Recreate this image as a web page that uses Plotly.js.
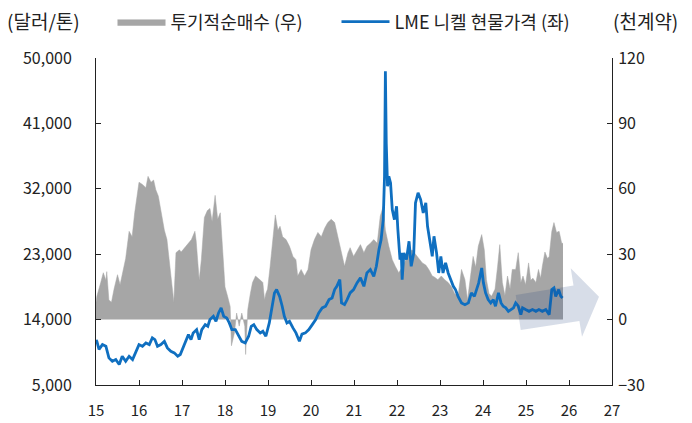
<!DOCTYPE html>
<html>
<head>
<meta charset="utf-8">
<script src="https://cdn.plot.ly/plotly-3.0.1.min.js"></script>
<style>
html,body{margin:0;padding:0;background:#fff;}
#chart{width:692px;height:423px;}
</style>
</head>
<body>
<div id="chart"></div>
<script>
// 투기적순매수 (천계약, 우축)
const specYears = [15.00,15.02,15.11,15.17,15.23,15.25,15.30,15.36,15.42,15.50,15.56,15.64,15.69,15.77,15.84,15.90,15.96,16.00,16.08,16.16,16.21,16.28,16.34,16.39,16.45,16.51,16.59,16.65,16.70,16.75,16.81,16.86,16.94,16.98,17.07,17.15,17.22,17.30,17.33,17.40,17.45,17.52,17.59,17.65,17.70,17.77,17.83,17.89,17.94,18.00,18.06,18.12,18.15,18.22,18.27,18.33,18.39,18.46,18.48,18.53,18.59,18.64,18.71,18.78,18.85,18.88,18.92,18.95,18.99,19.05,19.11,19.17,19.23,19.28,19.34,19.42,19.50,19.58,19.65,19.69,19.77,19.85,19.93,20.00,20.08,20.16,20.24,20.32,20.39,20.47,20.55,20.63,20.70,20.78,20.86,20.91,20.99,21.07,21.15,21.23,21.30,21.38,21.46,21.54,21.61,21.68,21.73,21.81,21.89,21.96,22.04,22.12,22.20,22.28,22.35,22.43,22.51,22.59,22.67,22.74,22.82,22.87,22.95,23.03,23.11,23.19,23.27,23.34,23.42,23.50,23.58,23.64,23.72,23.77,23.83,23.89,23.97,24.03,24.08,24.14,24.20,24.28,24.34,24.39,24.45,24.51,24.57,24.63,24.68,24.76,24.82,24.88,24.93,24.99,25.06,25.11,25.16,25.23,25.29,25.34,25.38,25.44,25.50,25.54,25.60,25.65,25.71,25.77,25.83,25.86];
const specNet = [8,10.7,17,21.5,18,22,9,8,14,20.6,16,23,28,40.5,38,49,58,63,62,60.5,65.7,63,64,59.6,56.6,50,41,36.7,27.5,21.5,8,30.7,32,31,33,35,36.7,40.5,36,18,27.5,46.8,50,51,45,57,46,49,32,15,10.7,6,-12,-6,3,-3,3,-3,-16,4.6,12,17,20,19,17.6,17,9,12,14,24.5,38,48,41,42.8,38,36.7,33.6,29,27.5,20,23,20,23,32,36.7,40,38,42,44.5,46,44.5,38,32,24.5,30.7,33,29,32,34.4,30.7,33.6,35,36.7,35,47.4,52,41,33.6,27.5,24.5,21.5,24,27.5,30.7,32,30,27.5,26,25,23,20,19.5,18.3,20,18.3,17,15,12,10.7,23,18.3,9,21.5,29,24,33.6,39,32,18.3,12,10.7,14,24.5,34.4,17,11,20,14,23,23,30.7,17,20,16,26,18,19,17,23,19,24.5,31,28,29,40.5,44.5,40,40.5,35,35];

// LME 니켈 현물가격 (달러/톤, 좌축)
const priceYears = [15.00,15.02,15.07,15.15,15.23,15.30,15.38,15.46,15.54,15.61,15.69,15.77,15.85,15.93,16.00,16.08,16.16,16.24,16.31,16.37,16.43,16.51,16.59,16.66,16.74,16.82,16.90,16.96,16.99,17.07,17.15,17.21,17.26,17.34,17.40,17.46,17.54,17.60,17.65,17.73,17.79,17.85,17.91,17.97,18.04,18.10,18.16,18.24,18.32,18.39,18.47,18.55,18.61,18.67,18.74,18.82,18.88,18.95,19.03,19.09,19.15,19.20,19.27,19.33,19.38,19.44,19.50,19.58,19.65,19.73,19.79,19.87,19.95,20.03,20.11,20.18,20.26,20.34,20.42,20.49,20.55,20.60,20.67,20.71,20.78,20.84,20.91,20.99,21.07,21.15,21.23,21.30,21.38,21.46,21.52,21.58,21.63,21.68,21.71,21.73,21.75,21.78,21.81,21.85,21.89,21.94,21.99,22.02,22.07,22.10,22.12,22.16,22.22,22.28,22.33,22.39,22.43,22.49,22.55,22.61,22.67,22.71,22.77,22.82,22.86,22.92,22.97,23.02,23.07,23.13,23.19,23.25,23.31,23.36,23.42,23.50,23.58,23.66,23.73,23.80,23.85,23.90,23.97,24.01,24.06,24.12,24.18,24.24,24.29,24.36,24.42,24.47,24.53,24.59,24.65,24.71,24.76,24.82,24.88,24.92,24.99,25.07,25.15,25.23,25.30,25.38,25.46,25.54,25.60,25.65,25.69,25.76,25.81,25.85];
const nickelPrice = [11200,11000,9900,10560,10330,8730,8260,8500,7810,8950,8260,8950,8500,9640,10560,10330,10790,10560,11480,11250,10330,10560,11010,10100,9640,9420,8950,9200,9640,10790,11940,11250,12170,12620,11250,12620,13310,13080,14000,14460,13770,14920,15610,14460,14230,13540,12620,12620,11710,11010,10790,11710,13080,13310,12620,12170,12400,11710,13540,15380,17670,18130,17200,15840,14460,13540,13770,12860,12170,11010,12000,12170,12620,13310,14000,14920,15610,15840,16750,16980,18130,18580,19500,16300,16060,16750,17670,18130,19050,19740,18580,20420,20880,19960,21340,23630,25000,27760,33720,48170,38310,32340,33720,32800,29140,27760,29600,26400,22260,23180,19500,23180,22260,24780,21340,23180,30060,31440,30520,28680,30060,26840,24550,22710,25460,23180,20420,22710,20420,21800,20420,19500,18580,18130,17200,16300,16060,16300,17670,17200,18130,19050,21110,19050,17670,16750,16300,16750,15840,17670,16300,15840,15610,15140,15380,15610,16300,15840,14690,15610,15380,15140,15380,15140,15380,15140,15380,14690,18130,18360,17200,18130,17200,16980];

const leftTicks = [5000,14000,23000,32000,41000,50000];
const rightTicks = [-30,0,30,60,90,120];
const yearTicks = [15,16,17,18,19,20,21,22,23,24,25,26,27];

const FONT = "'Noto Sans CJK KR', 'Noto Sans', sans-serif";
const TXT = '#222';

const traces = [
  {
    x: specYears, y: specNet, yaxis: 'y', type: 'scatter', mode: 'lines',
    name: '투기적순매수 (우)', fill: 'tozeroy', fillcolor: '#a6a6a6',
    line: {color: '#a6a6a6', width: 0.5}, legend: 'legend'
  },
  {
    x: priceYears, y: nickelPrice, yaxis: 'y2', type: 'scatter', mode: 'lines',
    name: 'LME 니켈 현물가격 (좌)', line: {color: '#0f6fc0', width: 2.8}, legend: 'legend2'
  }
];

const legendBase = {
  orientation: 'h', xref: 'container', xanchor: 'left',
  y: 1 - 22/423, yref: 'container', yanchor: 'middle',
  font: {family: FONT, size: 18, color: TXT},
  itemwidth: 48, bgcolor: 'rgba(0,0,0,0)'
};

const layout = {
  width: 692, height: 423,
  margin: {l: 96, r: 80, t: 58, b: 38, autoexpand: false},
  paper_bgcolor: '#fff', plot_bgcolor: '#fff',
  font: {family: FONT, size: 15, color: TXT},
  showlegend: true,
  legend: Object.assign({}, legendBase, {x: 112.5/692}),
  legend2: Object.assign({}, legendBase, {x: 336.5/692}),
  xaxis: {
    range: [15, 27], tickvals: yearTicks, ticktext: yearTicks.map(String),
    showgrid: false, zeroline: false, showline: true, linecolor: TXT, linewidth: 1,
    ticks: 'inside', ticklen: 5, tickcolor: TXT, ticklabelstandoff: 12,
    tickfont: {family: FONT, size: 15, color: TXT}
  },
  yaxis: {
    side: 'right', range: [-30, 120], tickvals: rightTicks,
    showgrid: false, zeroline: false, showline: true, linecolor: TXT, linewidth: 1,
    ticks: 'inside', ticklen: 5, tickcolor: TXT, ticklabelstandoff: 2,
    tickfont: {family: FONT, size: 16, color: TXT}
  },
  yaxis2: {
    overlaying: 'y', side: 'left', range: [5000, 50000], tickvals: leftTicks, tickformat: ',d',
    showgrid: false, zeroline: false, showline: true, linecolor: TXT, linewidth: 1,
    ticks: 'inside', ticklen: 5, tickcolor: TXT, ticklabelstandoff: 20,
    tickfont: {family: FONT, size: 16, color: TXT}
  },
  annotations: [
    {text: '(달러/톤)', xref: 'paper', yref: 'paper', x: -0.1764, y: 1.116, xanchor: 'left', yanchor: 'middle', showarrow: false, font: {family: FONT, size: 19, color: TXT}},
    {text: '(천계약)', xref: 'paper', yref: 'paper', x: 1.1318, y: 1.116, xanchor: 'right', yanchor: 'middle', showarrow: false, font: {family: FONT, size: 19, color: TXT}}
  ],
  shapes: [
    {
      type: 'path', xref: 'paper', yref: 'paper', layer: 'above',
      path: 'M0.8134,0.2752 L0.9254,0.3043 L0.9200,0.3569 L0.9748,0.2700 L0.9419,0.1477 L0.9368,0.1957 L0.8231,0.1682 Z',
      fillcolor: 'rgba(15,55,120,0.17)', line: {width: 0}
    }
  ]
};

Plotly.newPlot('chart', traces, layout, {staticPlot: true, displayModeBar: false});
</script>
</body>
</html>
